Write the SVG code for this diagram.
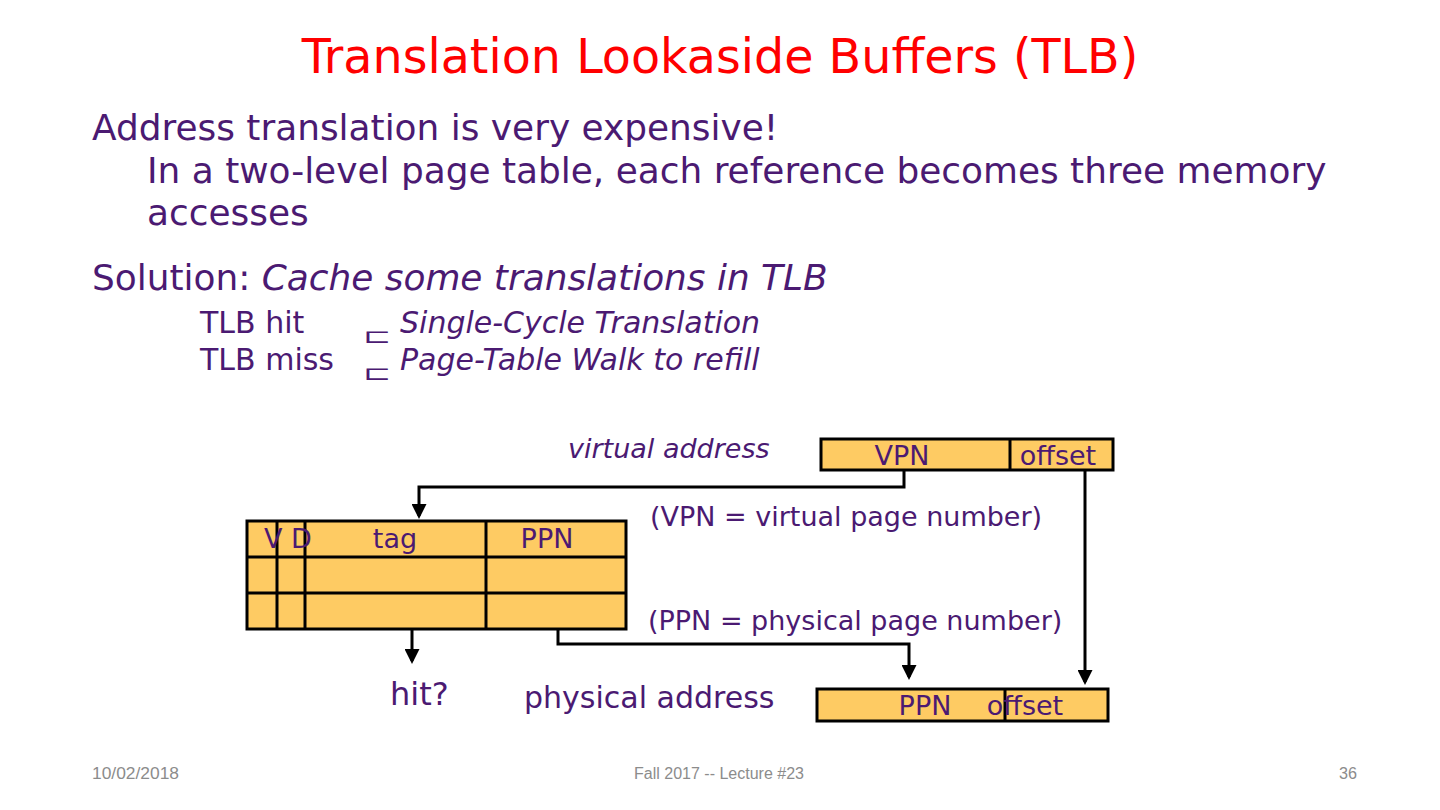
<svg xmlns="http://www.w3.org/2000/svg" width="1440" height="810" viewBox="0 0 1440 810">
<style>
.t{font-family:"DejaVu Sans",Verdana,sans-serif;fill:#4b1a72}
.i{font-style:italic}
.box{fill:#fecb63;stroke:#000;stroke-width:3}
.ln{stroke:#000;stroke-width:3;fill:none}
.c{fill:none;stroke:#000;stroke-width:3}
.f{font-family:"Liberation Sans",Arial,sans-serif;font-size:16px;fill:#8c8c8c}
</style>
<defs>
<marker id="ah" markerWidth="5" markerHeight="5" refX="4" refY="2.5" orient="auto" markerUnits="strokeWidth">
<path d="M0,0 L5,2.5 L0,5 z" fill="#000"/>
</marker>
</defs>
<rect width="1440" height="810" fill="#fff"/>
<text x="720" y="73" text-anchor="middle" font-family="DejaVu Sans,sans-serif" font-size="47.6" fill="#ff0000">Translation Lookaside Buffers (TLB)</text>
<g id="body-text">
<text class="t" x="92" y="140" font-size="35.9">Address translation is very expensive!</text>
<text class="t" x="147" y="183" font-size="35.9">In a two-level page table, each reference becomes three memory</text>
<text class="t" x="147" y="225" font-size="35.9">accesses</text>
<text class="t" x="92" y="290" font-size="35.9">Solution: <tspan class="i">Cache some translations in TLB</tspan></text>
<text class="t" x="200" y="333" font-size="30">TLB hit</text>
<text class="t" transform="translate(363,343) scale(1.7,1)" font-size="20">⊏</text>
<text class="t i" x="400" y="333" font-size="30">Single-Cycle Translation</text>
<text class="t" x="200" y="370" font-size="30">TLB miss</text>
<text class="t" transform="translate(363,380) scale(1.7,1)" font-size="20">⊏</text>
<text class="t i" x="400" y="370" font-size="30">Page-Table Walk to refill</text>
</g>
<g id="virtual-address">
<text class="t i" x="568" y="458" font-size="27">virtual address</text>
<rect class="box" x="821" y="439" width="292" height="31"/>
<line class="ln" x1="1010" y1="439" x2="1010" y2="470"/>
<text class="t" x="902" y="465" font-size="27" text-anchor="middle">VPN</text>
<text class="t" x="1058" y="465" font-size="27" text-anchor="middle">offset</text>
</g>
<g id="vpn-note"><text class="t" x="650" y="526" font-size="27">(VPN = virtual page number)</text></g>
<g id="tlb">
<rect class="box" x="247" y="521" width="379" height="108"/>
<line class="ln" x1="247" y1="557" x2="626" y2="557"/>
<line class="ln" x1="247" y1="593" x2="626" y2="593"/>
<line class="ln" x1="277" y1="521" x2="277" y2="629"/>
<line class="ln" x1="305" y1="521" x2="305" y2="629"/>
<line class="ln" x1="486" y1="521" x2="486" y2="629"/>
<text class="t" x="264" y="548" font-size="27">V D</text>
<text class="t" x="395" y="548" font-size="27" text-anchor="middle">tag</text>
<text class="t" x="547" y="548" font-size="27" text-anchor="middle">PPN</text>
</g>
<g id="ppn-note"><text class="t" x="648" y="630" font-size="27">(PPN = physical page number)</text></g>
<g id="hit"><text class="t" x="390" y="705" font-size="32">hit?</text></g>
<g id="physical-address">
<text class="t" x="524" y="708" font-size="30">physical address</text>
<rect class="box" x="817" y="689" width="291" height="32"/>
<line class="ln" x1="1005" y1="689" x2="1005" y2="721"/>
<text class="t" x="925" y="715" font-size="27" text-anchor="middle">PPN</text>
<text class="t" x="1025" y="715" font-size="27" text-anchor="middle">offset</text>
</g>
<g id="connectors">
<polyline class="c" points="904,470 904,487 419,487 419,516" marker-end="url(#ah)"/>
<polyline class="c" points="412,629 412,661" marker-end="url(#ah)"/>
<polyline class="c" points="558,629 558,644 909,644 909,677" marker-end="url(#ah)"/>
<polyline class="c" points="1085,470 1085,682" marker-end="url(#ah)"/>
</g>
<g id="footer">
<text class="f" x="92" y="779" textLength="87" lengthAdjust="spacingAndGlyphs">10/02/2018</text>
<text class="f" x="634" y="779" textLength="170" lengthAdjust="spacingAndGlyphs">Fall 2017 -- Lecture #23</text>
<text class="f" x="1339" y="779" textLength="18" lengthAdjust="spacingAndGlyphs">36</text>
</g>
</svg>
